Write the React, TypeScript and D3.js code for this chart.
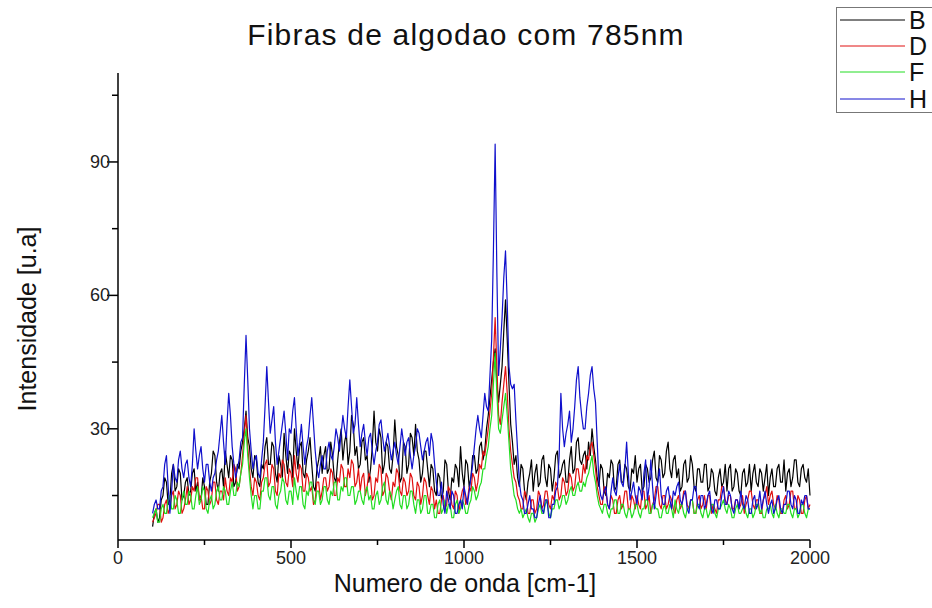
import React from "react";
import * as d3 from "d3";

// Wavenumber sampling (cm-1): 100 .. 2000, step 5
const WN_START = 100;
const WN_STEP = 5;

const seriesNames = ["B", "D", "F", "H"];
const seriesColors = ["#000000", "#e01010", "#22dd22", "#1010cc"];

// Intensity values [u.a] (one row = 100 cm-1)
const B = [
  8, 11, 12, 9, 10, 14, 15, 19, 18, 13, 14, 20, 22, 16, 17, 21, 20, 14, 15, 18,
  19, 15, 16, 20, 21, 16, 18, 14, 14, 19, 17, 13, 13, 18, 20, 25, 24, 18, 16, 20,
  21, 17, 25, 22, 19, 24, 23, 17, 18, 22, 21, 25, 27, 30, 34, 28, 26, 21, 19, 24,
  23, 18, 17, 22, 21, 26, 28, 22, 22, 27, 26, 20, 18, 24, 22, 19, 29, 24, 20, 25,
  24, 19, 30, 25, 21, 26, 27, 20, 19, 23, 25, 28, 22, 17, 16, 21, 23, 26, 20, 24,
  26, 20, 21, 27, 24, 19, 18, 23, 27, 30, 23, 27, 29, 22, 25, 33, 31, 24, 26, 21,
  22, 27, 28, 23, 24, 18, 21, 26, 34, 27, 25, 30, 28, 20, 22, 27, 26, 21, 20, 24,
  32, 26, 24, 18, 19, 27, 26, 20, 22, 29, 28, 24, 31, 25, 23, 18, 20, 25, 25, 21,
  17, 22, 21, 16, 15, 20, 19, 14, 16, 23, 22, 16, 14, 19, 18, 22, 21, 17, 26, 20,
  17, 23, 22, 17, 19, 24, 24, 20, 21, 26, 27, 23, 25, 30, 33, 37, 41, 45, 48, 40,
  36, 40, 44, 52, 59, 50, 40, 31, 27, 22, 24, 19, 17, 22, 21, 16, 14, 18, 20, 23,
  16, 20, 22, 17, 18, 23, 24, 19, 17, 22, 21, 16, 19, 24, 25, 19, 20, 22, 23, 18,
  18, 23, 26, 20, 21, 27, 28, 23, 22, 24, 25, 21, 27, 24, 30, 26, 23, 19, 17, 22,
  21, 16, 15, 20, 19, 23, 22, 16, 17, 22, 23, 18, 18, 22, 21, 17, 16, 21, 20, 24,
  18, 21, 22, 16, 17, 22, 21, 18, 19, 23, 25, 19, 18, 24, 23, 19, 20, 25, 27, 21,
  19, 23, 24, 19, 21, 16, 17, 22, 23, 18, 19, 24, 22, 17, 16, 21, 21, 18, 18, 22,
  22, 16, 17, 21, 20, 16, 15, 19, 21, 17, 18, 22, 16, 21, 22, 16, 17, 21, 20, 16,
  15, 20, 21, 17, 18, 22, 16, 20, 22, 18, 17, 21, 20, 16, 19, 22, 15, 19, 21, 17,
  17, 21, 22, 18, 18, 23, 16, 20, 21, 17, 19, 23, 23, 18, 17, 21, 22, 19, 18, 21,
  15,
];

const D = [
  9, 10, 11, 13, 13, 9, 10, 13, 14, 11, 12, 15, 16, 12, 13, 16, 15, 11, 12, 14,
  17, 13, 14, 17, 16, 19, 19, 14, 15, 12, 12, 17, 16, 13, 14, 18, 18, 14, 13, 16,
  16, 14, 19, 16, 15, 19, 18, 22, 21, 16, 17, 20, 24, 29, 33, 26, 21, 17, 15, 19,
  18, 15, 14, 18, 19, 22, 23, 17, 18, 22, 21, 16, 15, 20, 19, 23, 22, 18, 17, 21,
  20, 17, 24, 20, 18, 22, 21, 16, 16, 20, 19, 16, 17, 13, 14, 18, 18, 14, 16, 19,
  19, 16, 17, 21, 20, 15, 15, 19, 18, 22, 21, 17, 17, 21, 19, 23, 22, 17, 18, 21,
  16, 19, 20, 15, 17, 20, 19, 14, 15, 19, 18, 22, 21, 15, 16, 20, 19, 16, 14, 18,
  17, 21, 20, 16, 15, 19, 18, 15, 16, 20, 19, 15, 14, 18, 17, 13, 15, 19, 18, 15,
  13, 17, 16, 12, 14, 11, 11, 14, 15, 12, 13, 17, 16, 13, 12, 16, 15, 11, 14, 16,
  17, 13, 14, 17, 16, 20, 19, 16, 18, 22, 21, 25, 24, 27, 30, 34, 38, 46, 55, 44,
  33, 31, 36, 40, 44, 38, 30, 25, 22, 19, 18, 15, 14, 12, 12, 16, 15, 11, 11, 14,
  14, 11, 12, 16, 15, 12, 13, 16, 16, 13, 12, 15, 14, 18, 17, 14, 15, 19, 18, 15,
  16, 20, 19, 16, 17, 21, 21, 18, 18, 22, 20, 24, 23, 26, 27, 24, 21, 17, 15, 13,
  13, 17, 16, 13, 12, 15, 14, 11, 11, 14, 15, 12, 13, 16, 16, 12, 12, 15, 14, 12,
  15, 13, 12, 16, 16, 12, 13, 15, 11, 13, 14, 17, 17, 13, 12, 15, 15, 12, 13, 15,
  14, 12, 11, 14, 15, 12, 13, 16, 16, 13, 12, 14, 14, 11, 11, 14, 15, 12, 13, 15,
  12, 15, 15, 11, 13, 12, 11, 14, 14, 17, 17, 14, 13, 15, 15, 12, 12, 14, 14, 12,
  13, 15, 11, 13, 14, 16, 16, 13, 12, 14, 14, 11, 11, 14, 15, 17, 13, 15, 16, 13,
  12, 15, 14, 11, 11, 14, 15, 12, 13, 16, 16, 12, 12, 15, 14, 11, 11, 14, 15, 12,
  13,
];

const F = [
  10, 11, 12, 9, 9, 12, 13, 11, 11, 14, 15, 12, 12, 15, 14, 11, 11, 14, 16, 13,
  13, 16, 15, 12, 12, 15, 17, 13, 14, 17, 16, 12, 11, 14, 15, 12, 13, 16, 17, 14,
  14, 17, 16, 13, 13, 16, 18, 15, 15, 18, 17, 20, 22, 27, 30, 24, 19, 15, 12, 15,
  15, 12, 12, 16, 16, 19, 19, 15, 14, 17, 17, 13, 12, 15, 16, 19, 18, 14, 13, 16,
  16, 13, 19, 16, 14, 17, 17, 13, 12, 16, 15, 18, 18, 14, 13, 16, 16, 13, 14, 17,
  17, 14, 13, 16, 15, 18, 18, 14, 14, 17, 16, 19, 19, 15, 15, 17, 17, 13, 14, 16,
  16, 14, 13, 16, 17, 14, 15, 12, 12, 15, 16, 13, 14, 17, 18, 14, 13, 16, 15, 12,
  14, 16, 17, 13, 12, 15, 15, 12, 13, 16, 16, 13, 11, 14, 14, 11, 12, 15, 15, 11,
  11, 13, 13, 10, 10, 13, 14, 11, 12, 14, 11, 13, 13, 10, 10, 13, 14, 11, 12, 14,
  13, 11, 11, 13, 14, 17, 16, 14, 15, 17, 18, 21, 21, 24, 26, 30, 33, 40, 47, 38,
  30, 29, 32, 35, 38, 33, 27, 21, 18, 15, 14, 12, 11, 12, 10, 11, 12, 10, 9, 11,
  11, 9, 10, 12, 13, 11, 11, 13, 14, 11, 10, 12, 12, 14, 14, 12, 13, 15, 15, 13,
  14, 16, 17, 15, 15, 17, 18, 16, 16, 18, 17, 19, 20, 22, 24, 20, 18, 15, 13, 12,
  11, 13, 13, 11, 10, 12, 12, 14, 14, 11, 11, 13, 13, 11, 10, 12, 12, 10, 11, 13,
  13, 11, 10, 12, 12, 14, 14, 11, 11, 13, 13, 12, 12, 10, 10, 12, 13, 11, 11, 13,
  12, 10, 14, 12, 11, 13, 13, 11, 10, 12, 12, 14, 14, 11, 11, 13, 13, 11, 10, 12,
  12, 10, 11, 13, 13, 11, 10, 12, 12, 13, 14, 12, 11, 13, 12, 10, 10, 12, 13, 11,
  11, 12, 13, 11, 10, 12, 12, 10, 11, 13, 13, 11, 12, 10, 10, 12, 12, 13, 11, 10,
  13, 11, 10, 12, 12, 11, 11, 13, 13, 11, 10, 12, 12, 10, 11, 13, 13, 11, 10, 12,
  12,
];

const H = [
  11, 13, 14, 12, 12, 16, 17, 22, 24, 17, 11, 16, 22, 19, 18, 23, 25, 21, 19, 22,
  23, 19, 17, 22, 30, 25, 21, 24, 26, 21, 18, 22, 22, 18, 16, 19, 20, 23, 25, 29,
  33, 27, 22, 31, 38, 33, 26, 22, 19, 21, 23, 27, 28, 40, 51, 41, 30, 25, 21, 23,
  24, 20, 19, 23, 27, 35, 44, 36, 29, 32, 35, 27, 22, 25, 28, 31, 34, 29, 23, 30,
  29, 34, 37, 30, 24, 27, 31, 26, 22, 26, 28, 33, 37, 31, 25, 21, 19, 22, 24, 21,
  21, 25, 27, 24, 23, 26, 30, 28, 25, 29, 33, 30, 28, 35, 41, 35, 29, 31, 37, 31,
  26, 29, 31, 27, 24, 28, 29, 25, 22, 25, 27, 31, 32, 28, 25, 27, 29, 26, 23, 25,
  27, 24, 22, 26, 30, 27, 24, 27, 28, 24, 21, 24, 26, 30, 29, 26, 23, 25, 27, 28,
  24, 29, 27, 22, 18, 15, 15, 18, 13, 11, 16, 14, 12, 16, 15, 11, 11, 13, 14, 12,
  17, 15, 13, 16, 19, 22, 26, 30, 33, 30, 28, 33, 38, 35, 34, 42, 50, 70, 94, 65,
  42, 48, 55, 64, 70, 58, 44, 40, 39, 40, 32, 25, 18, 15, 14, 11, 11, 13, 15, 12,
  12, 10, 10, 13, 15, 12, 11, 14, 14, 10, 10, 13, 13, 16, 17, 24, 38, 30, 26, 29,
  31, 34, 27, 30, 35, 41, 44, 37, 33, 30, 30, 35, 38, 42, 44, 39, 36, 27, 18, 15,
  14, 16, 17, 13, 12, 16, 19, 16, 15, 19, 22, 18, 17, 21, 27, 20, 14, 16, 18, 15,
  13, 17, 16, 14, 20, 23, 14, 17, 23, 17, 12, 15, 18, 21, 15, 13, 13, 16, 17, 14,
  12, 16, 15, 17, 18, 14, 13, 15, 16, 12, 11, 14, 14, 17, 17, 13, 12, 15, 15, 12,
  13, 15, 16, 12, 11, 14, 14, 12, 12, 15, 17, 13, 13, 16, 15, 12, 11, 14, 14, 12,
  16, 13, 12, 15, 14, 11, 11, 14, 15, 12, 13, 16, 12, 14, 16, 13, 11, 13, 14, 11,
  12, 14, 15, 12, 11, 13, 13, 16, 16, 13, 12, 15, 14, 11, 11, 14, 13, 15, 15, 12,
  12,
];

const seriesValues = [B, D, F, H];

const xMajorTicks = [0, 500, 1000, 1500, 2000];
const xMinorTicks = [250, 750, 1250, 1750];
const yMajorTicks = [30, 60, 90];
const yMinorTicks = [15, 45, 75, 105];

const TITLE = "Fibras de algodao com 785nm";
const X_LABEL = "Numero de onda [cm-1]";
const Y_LABEL = "Intensidade [u.a]";

const W = 932;
const H_PX = 608;
const FONT = "'Liberation Sans', Arial, sans-serif";

export default function App() {
  const x = d3.scaleLinear().domain([0, 2000]).range([118, 810]);
  const y = d3.scaleLinear().domain([5, 110]).range([540, 73]);

  const line = d3
    .line<number>()
    .x((_, i) => x(WN_START + i * WN_STEP))
    .y((v) => y(v));

  const legendRows = [20, 46, 72, 99];

  return (
    <svg
      width={W}
      height={H_PX}
      style={{ position: "absolute", left: 0, top: 0, background: "#fff" }}
      fontFamily={FONT}
    >
      <rect x={0} y={0} width={W} height={H_PX} fill="#fff" />
      {/* series */}
      {seriesValues.map((vals, k) => (
        <path
          key={seriesNames[k]}
          d={line(vals) || ""}
          fill="none"
          stroke={seriesColors[k]}
          strokeWidth={1.2}
          strokeLinejoin="round"
        />
      ))}
      {/* axes */}
      <line x1={x(0)} x2={x(0)} y1={y(110)} y2={y(5)} stroke="#000" strokeWidth={1.5} />
      <line x1={x(0)} x2={x(2000)} y1={y(5)} y2={y(5)} stroke="#000" strokeWidth={1.5} />
      {xMajorTicks.map((t) => (
        <g key={"xt" + t}>
          <line x1={x(t)} x2={x(t)} y1={y(5)} y2={y(5) + 8} stroke="#000" strokeWidth={1.5} />
          <text x={x(t)} y={y(5) + 24} textAnchor="middle" fontSize={18} fill="#222">
            {t}
          </text>
        </g>
      ))}
      {xMinorTicks.map((t) => (
        <line key={"xm" + t} x1={x(t)} x2={x(t)} y1={y(5)} y2={y(5) + 5} stroke="#000" strokeWidth={1.5} />
      ))}
      {yMajorTicks.map((t) => (
        <g key={"yt" + t}>
          <line x1={x(0) - 11} x2={x(0)} y1={y(t)} y2={y(t)} stroke="#000" strokeWidth={1.5} />
          <text x={x(0) - 8} y={y(t) + 6} textAnchor="end" fontSize={18} fill="#222">
            {t}
          </text>
        </g>
      ))}
      {yMinorTicks.map((t) => (
        <line key={"ym" + t} x1={x(0) - 6} x2={x(0)} y1={y(t)} y2={y(t)} stroke="#000" strokeWidth={1.5} />
      ))}
      {/* titles */}
      <text x={466} y={45} textAnchor="middle" fontSize={30} letterSpacing={1.2} fill="#111">
        {TITLE}
      </text>
      <text x={465} y={592} textAnchor="middle" fontSize={25} fill="#111">
        {X_LABEL}
      </text>
      <text
        transform={`translate(36,319) rotate(-90)`}
        textAnchor="middle"
        fontSize={25}
        fill="#111"
      >
        {Y_LABEL}
      </text>
      {/* legend */}
      <rect x={836.5} y={7.5} width={110} height={105} fill="#fff" stroke="#777" strokeWidth={1} />
      {seriesNames.map((name, k) => (
        <g key={"lg" + name}>
          <line x1={840} x2={905} y1={legendRows[k]} y2={legendRows[k]} stroke={seriesColors[k]} strokeWidth={1} />
          <text x={909} y={legendRows[k] + 9} fontSize={25} fill="#111">
            {name}
          </text>
        </g>
      ))}
    </svg>
  );
}
